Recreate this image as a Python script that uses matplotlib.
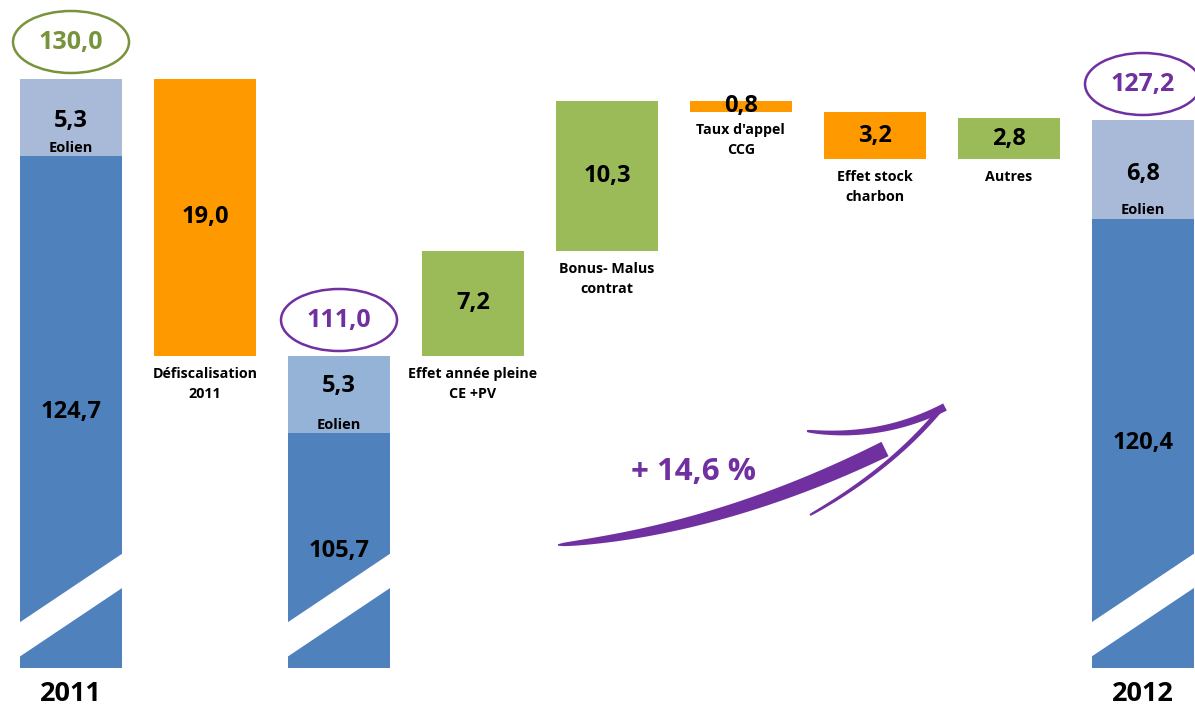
import matplotlib.pyplot as plt
import numpy as np
from matplotlib.patches import Ellipse, Polygon

plt.rcParams['font.family'] = ['Open Sans', 'DejaVu Sans']

# data
categories = ["2011", "Défiscalisation\n2011", "", "Effet année pleine\nCE +PV",
              "Bonus- Malus\ncontrat", "Taux d'appel\nCCG", "Effet stock\ncharbon",
              "Autres", "2012"]
total_idx = [0, 2, 8]
total_main = [124.7, 105.7, 120.4]
total_eolien = [5.3, 5.3, 6.8]
total_sum = ["130,0", "111,0", "127,2"]
delta_idx = [1, 3, 4, 5, 6, 7]
deltas = [-19.0, 7.2, 10.3, -0.8, -3.2, 2.8]
growth_label = "+ 14,6 %"

floor = 89.6
BLUE = '#4F81BD'
LIGHT = ['#A9BAD9', '#95B3D7', '#A9BAD9']
ORANGE = '#FF9900'
GREEN = '#9BBB59'
PURPLE = '#7030A0'
OLIVE = '#77933C'
W = 0.76
val_off = [25, 34, 32]   # points above the blue part for the "Eolien" value

fig = plt.figure(figsize=(11.95, 7.06), dpi=100)
ax = fig.add_axes([0, 0, 1, 1])
ax.set_xlim(-0.53, 8.39)
ax.set_ylim(87.0, 135.4)
ax.axis('off')

# totals
for k, i in enumerate(total_idx):
    m, e = total_main[k], total_eolien[k]
    ax.bar(i, m - floor, bottom=floor, width=W, color=BLUE)
    ax.bar(i, e, bottom=m, width=W, color=LIGHT[k])
    ax.text(i, (floor + m) / 2, f"{m:.1f}".replace('.', ','), ha='center', va='center',
            fontsize=17, fontweight='bold')
    ax.annotate(f"{e:.1f}".replace('.', ','), (i, m), xytext=(0, val_off[k]),
                textcoords='offset points', ha='center', va='center',
                fontsize=17, fontweight='bold')
    ax.annotate("Eolien", (i, m), xytext=(0, 6), textcoords='offset points',
                ha='center', va='center', fontsize=10.5, fontweight='bold')
    # axis break stripe
    x0, x1 = i - W / 2 - 0.01, i + W / 2 + 0.01
    y1, y2, t = 92.69, 97.49, 2.35
    ax.add_patch(Polygon([(x0, y1), (x1, y2), (x1, y2 - t), (x0, y1 - t)],
                         closed=True, facecolor='white', edgecolor='none', zorder=3))

# deltas
level = total_main[0] + total_eolien[0]
for i, d in zip(delta_idx, deltas):
    lo, hi = (level + d, level) if d < 0 else (level, level + d)
    ax.bar(i, hi - lo, bottom=lo, width=W, color=ORANGE if d < 0 else GREEN)
    ax.text(i, (lo + hi) / 2, f"{abs(d):.1f}".replace('.', ','), ha='center', va='center',
            fontsize=17, fontweight='bold', zorder=4)
    ax.annotate(categories[i], (i, lo), xytext=(0, -8), textcoords='offset points',
                ha='center', va='top', fontsize=10.3, fontweight='bold', linespacing=1.55)
    level += d
    if i == 1:
        level = total_main[1] + total_eolien[1]

ax.text(0, 87.8, categories[0], ha='center', va='center', fontsize=19.5, fontweight='bold')
ax.text(8, 87.8, categories[8], ha='center', va='center', fontsize=19.5, fontweight='bold')

# overlay in pixel coordinates for ellipses and arrow
ov = fig.add_axes([0, 0, 1, 1])
ov.set_xlim(0, 1195)
ov.set_ylim(706, 0)
ov.axis('off')
ov.patch.set_alpha(0)

ell = [(71, 42, OLIVE), (339, 320, PURPLE), (1143, 84, PURPLE)]
for (cx, cy, c), s in zip(ell, total_sum):
    ov.add_patch(Ellipse((cx, cy), 116, 62, facecolor='none', edgecolor=c, lw=1.8))
    ov.text(cx, cy + 1, s, ha='center', va='center', fontsize=18, fontweight='bold', color=c)


def stroke(p0, p1, p2, w0, w1):
    t = np.linspace(0, 1, 60)[:, None]
    p0, p1, p2 = map(np.array, (p0, p1, p2))
    pts = (1 - t) ** 2 * p0 + 2 * (1 - t) * t * p1 + t ** 2 * p2
    der = 2 * (1 - t) * (p1 - p0) + 2 * t * (p2 - p1)
    nrm = np.column_stack([-der[:, 1], der[:, 0]])
    nrm /= np.linalg.norm(nrm, axis=1)[:, None]
    wid = (w0 + (w1 - w0) * np.sqrt(t)) / 2
    poly = np.vstack([pts + nrm * wid, (pts - nrm * wid)[::-1]])
    ov.add_patch(Polygon(poly, closed=True, facecolor=PURPLE, edgecolor='none'))


stroke((558, 545), (720, 530), (885, 449), 1.5, 16)
stroke((807, 431), (880, 440), (945, 407), 2, 8)
stroke((810, 515), (890, 470), (940, 410), 2, 5)
ov.text(694, 472, growth_label, ha='center', va='center', fontsize=22.5,
        fontweight='bold', color=PURPLE)

fig.savefig('out.png', dpi=100)
